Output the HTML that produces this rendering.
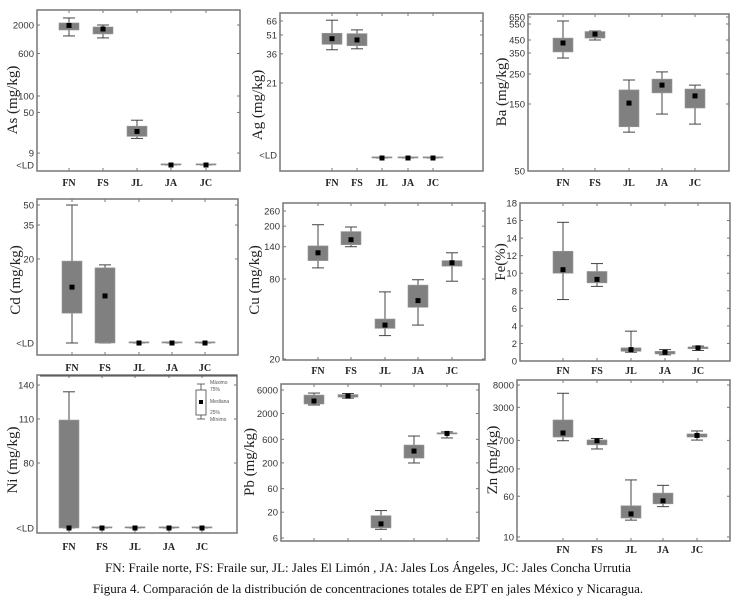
<!DOCTYPE html>
<html><head><meta charset="utf-8">
<style>
html,body{margin:0;padding:0;background:#fff;}
svg{display:block;}
.tl{font-family:"Liberation Sans",sans-serif;font-size:9.5px;fill:#333;}
.cl{font-family:"Liberation Serif",serif;font-size:10px;font-weight:bold;fill:#222;}
.yt{font-family:"Liberation Serif",serif;font-size:15px;fill:#222;}
.cap{font-family:"Liberation Serif",serif;font-size:13px;fill:#111;}
.lg{font-family:"Liberation Sans",sans-serif;font-size:5px;fill:#555;}
</style></head>
<body>
<svg id="fig" width="737" height="601" viewBox="0 0 737 601" xmlns="http://www.w3.org/2000/svg">
<text class="cap" x="368" y="572" text-anchor="middle">FN: Fraile norte, FS: Fraile sur, JL: Jales El Limón , JA: Jales Los Ángeles, JC: Jales Concha Urrutia</text>
<text class="cap" x="368" y="593" text-anchor="middle">Figura 4. Comparación de la distribución de concentraciones totales de EPT en jales México y Nicaragua.</text>
</svg>
<script>
const categories = ["FN","FS","JL","JA","JC"];
// values: 0 = <LD
const asMax=[2690,2000,36,0,0], asQ3=[2180,1840,28,0,0], asMed=[1960,1690,22.4,0,0], asQ1=[1620,1370,18.2,0,0], asMin=[1260,1160,16.7,0,0];
const agMax=[67,56,0,0,0], agQ3=[52.6,52.3,0,0,0], agMed=[47.6,46.5,0,0,0], agQ1=[42.9,41.8,0,0,0], agMin=[38.8,39.5,0,0,0];
const baMax=[593,506,230,260,213], baQ3=[462,503,197,233,200], baMed=[427,487,153,213,177], baQ1=[358,462,116,187,144], baMin=[326,450,108,135,120];
const cdMax=[50,18.6,0,0,0], cdQ3=[19.5,17.9,0,0,0], cdMed=[13.3,11.2,0,0,0], cdQ1=[7.1,0,0,0,0], cdMin=[0,0,0,0,0];
const cuMax=[205,197,64,79,126], cuQ3=[142,182,40,72,110], cuMed=[126,158,36,55,106], cuQ1=[110,145,34,49,100], cuMin=[97,140,30,36,77];
const feMax=[15.8,11.1,3.4,1.3,1.7], feQ3=[12.5,10.2,1.5,1.1,1.6], feMed=[10.4,9.3,1.3,1.0,1.5], feQ1=[10,8.9,1.1,0.8,1.4], feMin=[7,8.5,1.0,0.7,1.2];
const niMax=[134,0,0,0,0], niQ3=[109.3,0,0,0,0], niMed=[0,0,0,0,0], niQ1=[0,0,0,0,0], niMin=[0,0,0,0,0];
const pbMax=[5200,5100,21.6,700,850], pbQ3=[4740,4850,17,460,800], pbMed=[3590,4520,11.6,347,790], pbQ1=[3120,4300,9.6,250,770], pbMin=[2980,4100,9,199,640];
const znMax=[5560,762,123,97,1060], znQ3=[1720,714,39.5,69,930], znMed=[970,688,27.6,49,870], znQ1=[810,575,23,43,810], znMin=[690,480,21,38,710];
const asTicks=[2000,600,100,50,9], agTicks=[66,51,36,21], baTicks=[650,550,450,350,250,150,50];
const cdTicks=[50,35,20], cuTicks=[260,200,140,80,20], feTicks=[18,16,14,12,10,8,6,4,2,0];
const niTicks=[140,110,80], pbTicks=[6000,2000,600,200,60,20,6], znTicks=[8000,3000,700,200,60,10];

const NS="http://www.w3.org/2000/svg";
const svg=document.getElementById('fig');
function el(tag,attrs,parent){const e=document.createElementNS(NS,tag);for(const k in attrs)e.setAttribute(k,attrs[k]);(parent||svg).appendChild(e);return e;}
function logScale(v1,y1,v2,y2,ld){const a=Math.log10(v1),b=Math.log10(v2);return v=>v<=0?ld:y1+(a-Math.log10(v))/(a-b)*(y2-y1);}
function linScale(v1,y1,v2,y2){return v=>y1+(v-v1)/(v2-v1)*(y2-y1);}
function pwScale(vals,ys){return v=>{for(let i=0;i<vals.length-1;i++){if(v<=vals[i]&&v>=vals[i+1])return ys[i]+(vals[i]-v)/(vals[i]-vals[i+1])*(ys[i+1]-ys[i]);}return v>vals[0]?ys[0]:ys[ys.length-1];};}

const panels=[
 {id:"as",title:"As (mg/kg)",f:[37,10,240,171],cx:[69,103,137,171,206],s:logScale(2000,25,100,96,165),ticks:asTicks,ld:165,xl:186,tx:12,ty:100,d:[asMax,asQ3,asMed,asQ1,asMin]},
 {id:"ag",title:"Ag (mg/kg)",f:[280,13,483,171],cx:[332,357,382,408,433],s:logScale(66,21,21,83,158),ticks:agTicks,ld:155,xl:186,tx:257,ty:105,d:[agMax,agQ3,agMed,agQ1,agMin]},
 {id:"ba",title:"Ba (mg/kg)",f:[528,14,729,171],cx:[563,595,629,662,695],s:pwScale([650,550,450,350,250,150,50],[17,24,40,53,74,104,171]),ticks:baTicks,xl:186,tx:501,ty:92,d:[baMax,baQ3,baMed,baQ1,baMin]},
 {id:"cd",title:"Cd (mg/kg)",f:[37,199,238,355],cx:[72,105,139,172,205],s:pwScale([50,35,20,0],[205,225,259,343]),ticks:cdTicks,ld:343,xl:371,tx:15,ty:280,d:[cdMax,cdQ3,cdMed,cdQ1,cdMin]},
 {id:"cu",title:"Cu (mg/kg)",f:[283,203,485,360],cx:[318,351,385,418,452],s:logScale(260,211,20,359),ticks:cuTicks,xl:374,tx:254,ty:280,d:[cuMax,cuQ3,cuMed,cuQ1,cuMin]},
 {id:"fe",title:"Fe(%)",f:[520,203,730,361],cx:[563,597,631,665,698],s:linScale(18,203,0,361),ticks:feTicks,xl:374,tx:500,ty:262,d:[feMax,feQ3,feMed,feQ1,feMin]},
 {id:"ni",title:"Ni (mg/kg)",f:[37,375,237,533],cx:[69,102,135,169,202],s:pwScale([140,110,80,0],[385,419,463,528]),ticks:niTicks,ld:528,xl:550,tx:12,ty:460,d:[niMax,niQ3,niMed,niQ1,niMin]},
 {id:"pb",title:"Pb (mg/kg)",f:[281,384,479,541],cx:[314,348,381,414,447],s:logScale(6000,390,6,538),ticks:pbTicks,xl:null,tx:249,ty:462,d:[pbMax,pbQ3,pbMed,pbQ1,pbMin]},
 {id:"zn",title:"Zn (mg/kg)",f:[517,380,730,541],cx:[563,597,631,663,697],s:logScale(8000,385,10,537),ticks:znTicks,xl:553,tx:492,ty:460,d:[znMax,znQ3,znMed,znQ1,znMin]}
];

panels.forEach(p=>{
 const g=el('g',{});
 
 
 const [x0,y0,x1,y1]=p.f;
 const fr=el('rect',{x:x0,y:y0,width:x1-x0,height:y1-y0,fill:'none',stroke:'#777','stroke-width':1.5},g);
 
 
 p.ticks.forEach(t=>{
  const y=p.s(t);
  const tx=el('text',{x:x0-3,y:y+3.5,'text-anchor':'end',class:'tl'},g);tx.textContent=t;
  
  
  el('line',{x1:x1-3,x2:x1,y1:y,y2:y,stroke:'#777','stroke-width':1},g);
  el('line',{x1:x0,x2:x0+3,y1:y,y2:y,stroke:'#777','stroke-width':1},g);
 });
 if(p.ld!==undefined){
  const tx=el('text',{x:x0-3,y:p.ld+3.5,'text-anchor':'end',class:'tl'},g);tx.textContent='<LD';
  
  
 }
 const tt=el('text',{x:p.tx,y:p.ty,class:'yt','text-anchor':'middle',transform:`rotate(-90 ${p.tx} ${p.ty})`,dy:5},g);tt.textContent=p.title;
 
 
 categories.forEach((c,i)=>{
  const x=p.cx[i];
  el('line',{x1:x,x2:x,y1:y0,y2:y0+3,stroke:'#777'},g);
  el('line',{x1:x,x2:x,y1:y1-3,y2:y1,stroke:'#777'},g);
  if(p.xl){const cl=el('text',{x:x,y:p.xl,class:'cl','text-anchor':'middle'},g);cl.textContent=c;
   
   }
  const mx=p.s(p.d[0][i]),q3=p.s(p.d[1][i]),md=p.s(p.d[2][i]),q1=p.s(p.d[3][i]),mn=p.s(p.d[4][i]);
  const bg=el('g',{},g);
  
  
  el('line',{x1:x,x2:x,y1:mx,y2:mn,stroke:'#444','stroke-width':1},bg);
  el('line',{x1:x-6,x2:x+6,y1:mx,y2:mx,stroke:'#444','stroke-width':1},bg);
  el('line',{x1:x-6,x2:x+6,y1:mn,y2:mn,stroke:'#444','stroke-width':1},bg);
  const h=Math.max(q1-q3,1.2);
  el('rect',{x:x-10,y:Math.min(q3,q1-h),width:20,height:h,fill:'#808080',stroke:'#999','stroke-width':0.6},bg);
  el('rect',{x:x-2.5,y:md-2.5,width:5,height:5,fill:'#000'},bg);
 });
});
const ul=el('line',{x1:40,x2:237,y1:376,y2:376,stroke:'#444','stroke-width':1});


const lg=el('g',{});


el('line',{x1:201,x2:201,y1:384,y2:419,stroke:'#444','stroke-width':0.8},lg);
el('line',{x1:197,x2:205,y1:384,y2:384,stroke:'#444','stroke-width':0.8},lg);
el('line',{x1:197,x2:205,y1:419,y2:419,stroke:'#444','stroke-width':0.8},lg);
el('rect',{x:196,y:390,width:10,height:25,fill:'#fff',stroke:'#444','stroke-width':0.8},lg);
el('rect',{x:199,y:400,width:4,height:4,fill:'#000'},lg);
[["Máximo",384],["75%",391],["Mediana",403],["25%",414],["Mínimo",421]].forEach(a=>{const t=el('text',{x:210,y:a[1],class:'lg'},lg);t.textContent=a[0];});
</script>
</body></html>
